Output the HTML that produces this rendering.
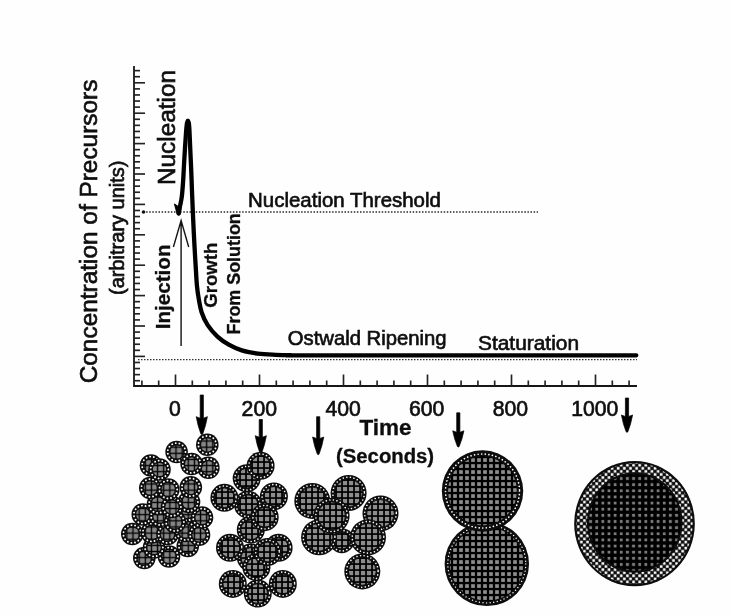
<!DOCTYPE html>
<html><head><meta charset="utf-8">
<style>
html,body{margin:0;padding:0;background:#fefefe;}
body{width:733px;height:616px;overflow:hidden;font-family:"Liberation Sans",sans-serif;}
svg{display:block;font-family:"Liberation Sans",sans-serif;}
</style></head><body>
<svg width="733" height="616" viewBox="0 0 733 616">
<defs>
<pattern id="gridS" width="6.14" height="6.14" patternUnits="userSpaceOnUse" x="1" y="2">
<rect width="6.14" height="6.14" fill="#868686"/>
<path d="M0 3.07H6.14M3.07 0V6.14" stroke="#000" stroke-width="1.35"/>
</pattern>
<pattern id="gridM" width="6" height="6" patternUnits="userSpaceOnUse">
<rect width="6" height="6" fill="#000"/>
<rect x="0.9" y="0.95" width="4.25" height="4.25" fill="#8c8c8c"/>
</pattern>
<pattern id="gridL" width="6.14" height="6.14" patternUnits="userSpaceOnUse" x="4.19" y="2.65">
<rect width="6.14" height="6.14" fill="#000"/>
<rect x="1.67" y="1.67" width="2.8" height="2.8" fill="#7c7c7c"/>
</pattern>
<pattern id="check" width="6.14" height="6.14" patternUnits="userSpaceOnUse" x="5.72" y="3.2">
<rect width="6.14" height="6.14" fill="#0c0c0c"/>
<rect x="0.25" y="0.25" width="2.6" height="2.6" fill="#fff"/>
<rect x="3.32" y="3.32" width="2.6" height="2.6" fill="#fff"/>
</pattern>
<pattern id="gridB" width="6" height="6" patternUnits="userSpaceOnUse" x="2" y="1">
<rect width="6" height="6" fill="#000"/>
<rect x="1.15" y="1.2" width="3.7" height="3.7" fill="#8d8d8d"/>
</pattern>
</defs>
<filter id="soft" x="0" y="0" width="733" height="616" filterUnits="userSpaceOnUse"><feGaussianBlur stdDeviation="0.45"/></filter>
<rect width="733" height="616" fill="#fefefe"/>
<g filter="url(#soft)">

<g stroke="#161616" stroke-width="1.8" fill="none">
<path d="M134.0 66V386.0H637"/>
</g>
<g stroke="#222" stroke-width="1.65">
<path d="M134.0 70.64h6"/>
<path d="M134.0 76.72h6"/>
<path d="M134.0 82.80h11"/>
<path d="M134.0 88.88h6"/>
<path d="M134.0 94.96h6"/>
<path d="M134.0 101.04h6"/>
<path d="M134.0 107.12h6"/>
<path d="M134.0 113.20h11"/>
<path d="M134.0 119.28h6"/>
<path d="M134.0 125.36h6"/>
<path d="M134.0 131.44h6"/>
<path d="M134.0 137.52h6"/>
<path d="M134.0 143.60h11"/>
<path d="M134.0 149.68h6"/>
<path d="M134.0 155.76h6"/>
<path d="M134.0 161.84h6"/>
<path d="M134.0 167.92h6"/>
<path d="M134.0 174.00h11"/>
<path d="M134.0 180.08h6"/>
<path d="M134.0 186.16h6"/>
<path d="M134.0 192.24h6"/>
<path d="M134.0 198.32h6"/>
<path d="M134.0 204.40h11"/>
<path d="M134.0 210.48h6"/>
<path d="M134.0 216.56h6"/>
<path d="M134.0 222.64h6"/>
<path d="M134.0 228.72h6"/>
<path d="M134.0 234.80h11"/>
<path d="M134.0 240.88h6"/>
<path d="M134.0 246.96h6"/>
<path d="M134.0 253.04h6"/>
<path d="M134.0 259.12h6"/>
<path d="M134.0 265.20h11"/>
<path d="M134.0 271.28h6"/>
<path d="M134.0 277.36h6"/>
<path d="M134.0 283.44h6"/>
<path d="M134.0 289.52h6"/>
<path d="M134.0 295.60h11"/>
<path d="M134.0 301.68h6"/>
<path d="M134.0 307.76h6"/>
<path d="M134.0 313.84h6"/>
<path d="M134.0 319.92h6"/>
<path d="M134.0 326.00h11"/>
<path d="M134.0 332.08h6"/>
<path d="M134.0 338.16h6"/>
<path d="M134.0 344.24h6"/>
<path d="M134.0 350.32h6"/>
<path d="M134.0 356.40h11"/>
<path d="M134.0 362.48h6"/>
<path d="M134.0 368.56h6"/>
<path d="M134.0 374.64h6"/>
<path d="M134.0 380.72h6"/>
<path d="M141.90 386.0v-5.5"/>
<path d="M158.70 386.0v-5.5"/>
<path d="M175.50 386.0v-11.5"/>
<path d="M192.30 386.0v-5.5"/>
<path d="M209.10 386.0v-5.5"/>
<path d="M225.90 386.0v-5.5"/>
<path d="M242.70 386.0v-5.5"/>
<path d="M259.50 386.0v-11.5"/>
<path d="M276.30 386.0v-5.5"/>
<path d="M293.10 386.0v-5.5"/>
<path d="M309.90 386.0v-5.5"/>
<path d="M326.70 386.0v-5.5"/>
<path d="M343.50 386.0v-11.5"/>
<path d="M360.30 386.0v-5.5"/>
<path d="M377.10 386.0v-5.5"/>
<path d="M393.90 386.0v-5.5"/>
<path d="M410.70 386.0v-5.5"/>
<path d="M427.50 386.0v-11.5"/>
<path d="M444.30 386.0v-5.5"/>
<path d="M461.10 386.0v-5.5"/>
<path d="M477.90 386.0v-5.5"/>
<path d="M494.70 386.0v-5.5"/>
<path d="M511.50 386.0v-11.5"/>
<path d="M528.30 386.0v-5.5"/>
<path d="M545.10 386.0v-5.5"/>
<path d="M561.90 386.0v-5.5"/>
<path d="M578.70 386.0v-5.5"/>
<path d="M595.50 386.0v-11.5"/>
<path d="M612.30 386.0v-5.5"/>
<path d="M629.10 386.0v-5.5"/>
</g>
<path d="M143 212H538" stroke="#2a2a2a" stroke-width="1.7" stroke-dasharray="1.5 1.6"/>
<circle cx="143.5" cy="212" r="1.8" fill="#111"/>
<path d="M138 359.6H637" stroke="#333" stroke-width="1.3" stroke-dasharray="1.5 1.5"/>
<path d="M178.70 213.50 C178.85 212.58 179.27 209.75 179.60 208.00 C179.93 206.25 180.37 204.67 180.70 203.00 C181.03 201.33 181.35 199.67 181.60 198.00 C181.85 196.33 181.93 196.00 182.20 193.00 C182.47 190.00 182.88 185.00 183.20 180.00 C183.52 175.00 183.80 168.33 184.10 163.00 C184.40 157.67 184.72 152.50 185.00 148.00 C185.28 143.50 185.57 139.33 185.80 136.00 C186.03 132.67 186.20 130.17 186.40 128.00 C186.60 125.83 186.75 124.17 187.00 123.00 C187.25 121.83 187.75 121.33 187.90 121.00" fill="none" stroke="#050505" stroke-width="4.3" stroke-linecap="round"/>
<path d="M187.90 121.00 C188.05 121.33 188.57 121.83 188.80 123.00 C189.03 124.17 189.15 125.83 189.30 128.00 C189.45 130.17 189.53 132.33 189.70 136.00 C189.87 139.67 190.10 145.50 190.30 150.00 C190.50 154.50 190.68 158.00 190.90 163.00 C191.12 168.00 191.40 174.83 191.60 180.00 C191.80 185.17 191.83 187.33 192.10 194.00 C192.37 200.67 192.82 211.62 193.20 220.00 C193.58 228.38 193.95 235.97 194.40 244.30 C194.85 252.63 195.47 263.02 195.90 270.00 C196.33 276.98 196.52 281.33 197.00 286.20 C197.48 291.07 198.03 294.87 198.80 299.20 C199.57 303.53 200.12 307.87 201.60 312.20 C203.08 316.53 205.05 321.13 207.70 325.20 C210.35 329.27 213.98 333.35 217.50 336.60 C221.02 339.85 224.75 342.40 228.80 344.70 C232.85 347.00 236.93 348.92 241.80 350.40 C246.67 351.88 252.32 352.87 258.00 353.60 C263.68 354.33 270.57 354.53 275.90 354.80 C281.23 355.07 282.65 355.12 290.00 355.20 C297.35 355.28 262.28 355.28 320.00 355.30 C377.72 355.32 583.58 355.30 636.30 355.30" fill="none" stroke="#050505" stroke-width="4.3" stroke-linecap="round"/>
<path d="M174.6 204.2 L177.2 213.8 Q178.6 216 180.2 213.8 L181.5 203 L178.4 207 Z" fill="#050505" stroke="#050505" stroke-width="1.2" stroke-linejoin="round"/>
<path d="M181.1 346V221 M173.4 247L181.1 220.5L188.7 247" fill="none" stroke="#151515" stroke-width="1.4"/>
<text x="96.7" y="383.3" font-size="24.4" font-weight="normal" text-anchor="start" fill="#0c0c0c" stroke="#0c0c0c" stroke-width="0.65" transform="rotate(-90 96.7 383.3)">Concentration of Precursors</text>
<text x="124.2" y="295" font-size="20.0" font-weight="normal" text-anchor="start" fill="#0c0c0c" stroke="#0c0c0c" stroke-width="0.65" transform="rotate(-90 124.2 295)">(arbitrary units)</text>
<text x="175" y="185.1" font-size="24.4" font-weight="normal" text-anchor="start" fill="#0c0c0c" stroke="#0c0c0c" stroke-width="0.65" transform="rotate(-90 175 185.1)">Nucleation</text>
<text x="169.6" y="329.2" font-size="20.6" font-weight="bold" text-anchor="start" fill="#0c0c0c" stroke="#0c0c0c" stroke-width="0.3" transform="rotate(-90 169.6 329.2)">Injection</text>
<text x="216.8" y="307.8" font-size="18.6" font-weight="bold" text-anchor="start" fill="#0c0c0c" stroke="#0c0c0c" stroke-width="0.3" transform="rotate(-90 216.8 307.8)">Growth</text>
<text x="240" y="334.5" font-size="17.9" font-weight="bold" text-anchor="start" fill="#0c0c0c" stroke="#0c0c0c" stroke-width="0.3" transform="rotate(-90 240 334.5)">From Solution</text>
<text x="248.1" y="207" font-size="20.45" font-weight="normal" text-anchor="start" fill="#0c0c0c" stroke="#0c0c0c" stroke-width="0.65">Nucleation Threshold</text>
<text x="287.8" y="345" font-size="20.25" font-weight="normal" text-anchor="start" fill="#0c0c0c" stroke="#0c0c0c" stroke-width="0.65">Ostwald Ripening</text>
<text x="478" y="349.5" font-size="20.9" font-weight="normal" text-anchor="start" fill="#0c0c0c" stroke="#0c0c0c" stroke-width="0.65">Staturation</text>
<text x="175" y="415.8" font-size="21.2" font-weight="normal" text-anchor="middle" fill="#0c0c0c" stroke="#0c0c0c" stroke-width="0.65">0</text>
<text x="259.3" y="415.8" font-size="21.2" font-weight="normal" text-anchor="middle" fill="#0c0c0c" stroke="#0c0c0c" stroke-width="0.65">200</text>
<text x="343.2" y="415.8" font-size="21.2" font-weight="normal" text-anchor="middle" fill="#0c0c0c" stroke="#0c0c0c" stroke-width="0.65">400</text>
<text x="426.7" y="415.8" font-size="21.2" font-weight="normal" text-anchor="middle" fill="#0c0c0c" stroke="#0c0c0c" stroke-width="0.65">600</text>
<text x="510.4" y="415.8" font-size="21.2" font-weight="normal" text-anchor="middle" fill="#0c0c0c" stroke="#0c0c0c" stroke-width="0.65">800</text>
<text x="594.7" y="415.8" font-size="21.2" font-weight="normal" text-anchor="middle" fill="#0c0c0c" stroke="#0c0c0c" stroke-width="0.65">1000</text>
<text x="385.5" y="435" font-size="22.5" font-weight="bold" text-anchor="middle" fill="#0c0c0c" stroke="#0c0c0c" stroke-width="0.3">Time</text>
<text x="385.1" y="463" font-size="20.3" font-weight="bold" text-anchor="middle" fill="#0c0c0c" stroke="#0c0c0c" stroke-width="0.3">(Seconds)</text>
<path d="M200.20000000000002 395H203.4V418.2L207.4 416.7Q205.83 425.75 202.70000000000002 434.0Q201.8 435.2 200.9 434.0Q197.77 425.75 196.20000000000002 416.7L200.20000000000002 418.2Z" fill="#060606" stroke="#060606" stroke-width="0.7" stroke-linejoin="round"/>
<path d="M259.2 419.5H262.40000000000003V437.2L266.40000000000003 435.7Q264.83 444.75 261.7 453.0Q260.8 454.2 259.90000000000003 453.0Q256.77 444.75 255.20000000000002 435.7L259.2 437.2Z" fill="#060606" stroke="#060606" stroke-width="0.7" stroke-linejoin="round"/>
<path d="M316.59999999999997 416.7H319.8V438.5L323.8 437Q322.23 445.95 319.09999999999997 454.09999999999997Q318.2 455.29999999999995 317.3 454.09999999999997Q314.17 445.95 312.59999999999997 437L316.59999999999997 438.5Z" fill="#060606" stroke="#060606" stroke-width="0.7" stroke-linejoin="round"/>
<path d="M456.7 412.8H459.90000000000003V432.3L463.90000000000003 430.8Q462.33 439.00 459.2 446.4Q458.3 447.59999999999997 457.40000000000003 446.4Q454.27 439.00 452.7 430.8L456.7 432.3Z" fill="#060606" stroke="#060606" stroke-width="0.7" stroke-linejoin="round"/>
<path d="M625.4 398H628.6V416.5L632.6 415Q631.03 423.75 627.9 431.7Q627 432.9 626.1 431.7Q622.97 423.75 621.4 415L625.4 416.5Z" fill="#060606" stroke="#060606" stroke-width="0.7" stroke-linejoin="round"/>
<circle cx="144.3" cy="558" r="11.3" fill="#0e0e0e"/>
<circle cx="144.3" cy="558" r="8.9" fill="none" stroke="#fff" stroke-width="1.9" stroke-linecap="round" stroke-dasharray="0.01 3.7"/>
<circle cx="144.3" cy="558" r="6.6000000000000005" fill="url(#gridS)"/>
<circle cx="169" cy="556.5" r="11.3" fill="#0e0e0e"/>
<circle cx="169" cy="556.5" r="8.9" fill="none" stroke="#fff" stroke-width="1.9" stroke-linecap="round" stroke-dasharray="0.01 3.7"/>
<circle cx="169" cy="556.5" r="6.6000000000000005" fill="url(#gridS)"/>
<circle cx="154" cy="547.5" r="11.3" fill="#0e0e0e"/>
<circle cx="154" cy="547.5" r="8.9" fill="none" stroke="#fff" stroke-width="1.9" stroke-linecap="round" stroke-dasharray="0.01 3.7"/>
<circle cx="154" cy="547.5" r="6.6000000000000005" fill="url(#gridS)"/>
<circle cx="187.8" cy="546" r="11.3" fill="#0e0e0e"/>
<circle cx="187.8" cy="546" r="8.9" fill="none" stroke="#fff" stroke-width="1.9" stroke-linecap="round" stroke-dasharray="0.01 3.7"/>
<circle cx="187.8" cy="546" r="6.6000000000000005" fill="url(#gridS)"/>
<circle cx="132.3" cy="534" r="11.3" fill="#0e0e0e"/>
<circle cx="132.3" cy="534" r="8.9" fill="none" stroke="#fff" stroke-width="1.9" stroke-linecap="round" stroke-dasharray="0.01 3.7"/>
<circle cx="132.3" cy="534" r="6.6000000000000005" fill="url(#gridS)"/>
<circle cx="151.8" cy="532.5" r="11.3" fill="#0e0e0e"/>
<circle cx="151.8" cy="532.5" r="8.9" fill="none" stroke="#fff" stroke-width="1.9" stroke-linecap="round" stroke-dasharray="0.01 3.7"/>
<circle cx="151.8" cy="532.5" r="6.6000000000000005" fill="url(#gridS)"/>
<circle cx="167.5" cy="534" r="11.3" fill="#0e0e0e"/>
<circle cx="167.5" cy="534" r="8.9" fill="none" stroke="#fff" stroke-width="1.9" stroke-linecap="round" stroke-dasharray="0.01 3.7"/>
<circle cx="167.5" cy="534" r="6.6000000000000005" fill="url(#gridS)"/>
<circle cx="185.6" cy="531" r="11.3" fill="#0e0e0e"/>
<circle cx="185.6" cy="531" r="8.9" fill="none" stroke="#fff" stroke-width="1.9" stroke-linecap="round" stroke-dasharray="0.01 3.7"/>
<circle cx="185.6" cy="531" r="6.6000000000000005" fill="url(#gridS)"/>
<circle cx="199" cy="534.8" r="11.3" fill="#0e0e0e"/>
<circle cx="199" cy="534.8" r="8.9" fill="none" stroke="#fff" stroke-width="1.9" stroke-linecap="round" stroke-dasharray="0.01 3.7"/>
<circle cx="199" cy="534.8" r="6.6000000000000005" fill="url(#gridS)"/>
<circle cx="142.8" cy="514.5" r="11.3" fill="#0e0e0e"/>
<circle cx="142.8" cy="514.5" r="8.9" fill="none" stroke="#fff" stroke-width="1.9" stroke-linecap="round" stroke-dasharray="0.01 3.7"/>
<circle cx="142.8" cy="514.5" r="6.6000000000000005" fill="url(#gridS)"/>
<circle cx="160" cy="516" r="11.3" fill="#0e0e0e"/>
<circle cx="160" cy="516" r="8.9" fill="none" stroke="#fff" stroke-width="1.9" stroke-linecap="round" stroke-dasharray="0.01 3.7"/>
<circle cx="160" cy="516" r="6.6000000000000005" fill="url(#gridS)"/>
<circle cx="187" cy="511.5" r="11.3" fill="#0e0e0e"/>
<circle cx="187" cy="511.5" r="8.9" fill="none" stroke="#fff" stroke-width="1.9" stroke-linecap="round" stroke-dasharray="0.01 3.7"/>
<circle cx="187" cy="511.5" r="6.6000000000000005" fill="url(#gridS)"/>
<circle cx="202" cy="517.5" r="11.3" fill="#0e0e0e"/>
<circle cx="202" cy="517.5" r="8.9" fill="none" stroke="#fff" stroke-width="1.9" stroke-linecap="round" stroke-dasharray="0.01 3.7"/>
<circle cx="202" cy="517.5" r="6.6000000000000005" fill="url(#gridS)"/>
<circle cx="158" cy="504" r="11.3" fill="#0e0e0e"/>
<circle cx="158" cy="504" r="8.9" fill="none" stroke="#fff" stroke-width="1.9" stroke-linecap="round" stroke-dasharray="0.01 3.7"/>
<circle cx="158" cy="504" r="6.6000000000000005" fill="url(#gridS)"/>
<circle cx="189" cy="502" r="11.3" fill="#0e0e0e"/>
<circle cx="189" cy="502" r="8.9" fill="none" stroke="#fff" stroke-width="1.9" stroke-linecap="round" stroke-dasharray="0.01 3.7"/>
<circle cx="189" cy="502" r="6.6000000000000005" fill="url(#gridS)"/>
<circle cx="175" cy="522" r="11.3" fill="#0e0e0e"/>
<circle cx="175" cy="522" r="8.9" fill="none" stroke="#fff" stroke-width="1.9" stroke-linecap="round" stroke-dasharray="0.01 3.7"/>
<circle cx="175" cy="522" r="6.6000000000000005" fill="url(#gridS)"/>
<circle cx="172" cy="507" r="11.3" fill="#0e0e0e"/>
<circle cx="172" cy="507" r="8.9" fill="none" stroke="#fff" stroke-width="1.9" stroke-linecap="round" stroke-dasharray="0.01 3.7"/>
<circle cx="172" cy="507" r="6.6000000000000005" fill="url(#gridS)"/>
<circle cx="150.3" cy="488" r="11.3" fill="#0e0e0e"/>
<circle cx="150.3" cy="488" r="8.9" fill="none" stroke="#fff" stroke-width="1.9" stroke-linecap="round" stroke-dasharray="0.01 3.7"/>
<circle cx="150.3" cy="488" r="6.6000000000000005" fill="url(#gridS)"/>
<circle cx="168.3" cy="489.5" r="11.3" fill="#0e0e0e"/>
<circle cx="168.3" cy="489.5" r="8.9" fill="none" stroke="#fff" stroke-width="1.9" stroke-linecap="round" stroke-dasharray="0.01 3.7"/>
<circle cx="168.3" cy="489.5" r="6.6000000000000005" fill="url(#gridS)"/>
<circle cx="190.8" cy="487.3" r="11.3" fill="#0e0e0e"/>
<circle cx="190.8" cy="487.3" r="8.9" fill="none" stroke="#fff" stroke-width="1.9" stroke-linecap="round" stroke-dasharray="0.01 3.7"/>
<circle cx="190.8" cy="487.3" r="6.6000000000000005" fill="url(#gridS)"/>
<circle cx="151" cy="465.5" r="11.3" fill="#0e0e0e"/>
<circle cx="151" cy="465.5" r="8.9" fill="none" stroke="#fff" stroke-width="1.9" stroke-linecap="round" stroke-dasharray="0.01 3.7"/>
<circle cx="151" cy="465.5" r="6.6000000000000005" fill="url(#gridS)"/>
<circle cx="159.5" cy="469.5" r="11.3" fill="#0e0e0e"/>
<circle cx="159.5" cy="469.5" r="8.9" fill="none" stroke="#fff" stroke-width="1.9" stroke-linecap="round" stroke-dasharray="0.01 3.7"/>
<circle cx="159.5" cy="469.5" r="6.6000000000000005" fill="url(#gridS)"/>
<circle cx="176.6" cy="452" r="11.3" fill="#0e0e0e"/>
<circle cx="176.6" cy="452" r="8.9" fill="none" stroke="#fff" stroke-width="1.9" stroke-linecap="round" stroke-dasharray="0.01 3.7"/>
<circle cx="176.6" cy="452" r="6.6000000000000005" fill="url(#gridS)"/>
<circle cx="208.4" cy="467.8" r="11.3" fill="#0e0e0e"/>
<circle cx="208.4" cy="467.8" r="8.9" fill="none" stroke="#fff" stroke-width="1.9" stroke-linecap="round" stroke-dasharray="0.01 3.7"/>
<circle cx="208.4" cy="467.8" r="6.6000000000000005" fill="url(#gridS)"/>
<circle cx="191.6" cy="464" r="11.3" fill="#0e0e0e"/>
<circle cx="191.6" cy="464" r="8.9" fill="none" stroke="#fff" stroke-width="1.9" stroke-linecap="round" stroke-dasharray="0.01 3.7"/>
<circle cx="191.6" cy="464" r="6.6000000000000005" fill="url(#gridS)"/>
<circle cx="207.3" cy="444.8" r="11.3" fill="#0e0e0e"/>
<circle cx="207.3" cy="444.8" r="8.9" fill="none" stroke="#fff" stroke-width="1.9" stroke-linecap="round" stroke-dasharray="0.01 3.7"/>
<circle cx="207.3" cy="444.8" r="6.6000000000000005" fill="url(#gridS)"/>
<circle cx="232.8" cy="583.9" r="14" fill="#0e0e0e"/>
<circle cx="232.8" cy="583.9" r="11.8" fill="none" stroke="#fff" stroke-width="1.6" stroke-linecap="round" stroke-dasharray="0.01 3.6"/>
<circle cx="232.8" cy="583.9" r="9.8" fill="url(#gridM)" stroke="#050505" stroke-width="0.8"/>
<circle cx="282.8" cy="583.9" r="14" fill="#0e0e0e"/>
<circle cx="282.8" cy="583.9" r="11.8" fill="none" stroke="#fff" stroke-width="1.6" stroke-linecap="round" stroke-dasharray="0.01 3.6"/>
<circle cx="282.8" cy="583.9" r="9.8" fill="url(#gridM)" stroke="#050505" stroke-width="0.8"/>
<circle cx="257.8" cy="593.6" r="14" fill="#0e0e0e"/>
<circle cx="257.8" cy="593.6" r="11.8" fill="none" stroke="#fff" stroke-width="1.6" stroke-linecap="round" stroke-dasharray="0.01 3.6"/>
<circle cx="257.8" cy="593.6" r="9.8" fill="url(#gridM)" stroke="#050505" stroke-width="0.8"/>
<circle cx="250.8" cy="557.5" r="14" fill="#0e0e0e"/>
<circle cx="250.8" cy="557.5" r="11.8" fill="none" stroke="#fff" stroke-width="1.6" stroke-linecap="round" stroke-dasharray="0.01 3.6"/>
<circle cx="250.8" cy="557.5" r="9.8" fill="url(#gridM)" stroke="#050505" stroke-width="0.8"/>
<circle cx="256.4" cy="567.2" r="14" fill="#0e0e0e"/>
<circle cx="256.4" cy="567.2" r="11.8" fill="none" stroke="#fff" stroke-width="1.6" stroke-linecap="round" stroke-dasharray="0.01 3.6"/>
<circle cx="256.4" cy="567.2" r="9.8" fill="url(#gridM)" stroke="#050505" stroke-width="0.8"/>
<circle cx="230" cy="547.8" r="14" fill="#0e0e0e"/>
<circle cx="230" cy="547.8" r="11.8" fill="none" stroke="#fff" stroke-width="1.6" stroke-linecap="round" stroke-dasharray="0.01 3.6"/>
<circle cx="230" cy="547.8" r="9.8" fill="url(#gridM)" stroke="#050505" stroke-width="0.8"/>
<circle cx="278.6" cy="547.8" r="14" fill="#0e0e0e"/>
<circle cx="278.6" cy="547.8" r="11.8" fill="none" stroke="#fff" stroke-width="1.6" stroke-linecap="round" stroke-dasharray="0.01 3.6"/>
<circle cx="278.6" cy="547.8" r="9.8" fill="url(#gridM)" stroke="#050505" stroke-width="0.8"/>
<circle cx="267.5" cy="552" r="14" fill="#0e0e0e"/>
<circle cx="267.5" cy="552" r="11.8" fill="none" stroke="#fff" stroke-width="1.6" stroke-linecap="round" stroke-dasharray="0.01 3.6"/>
<circle cx="267.5" cy="552" r="9.8" fill="url(#gridM)" stroke="#050505" stroke-width="0.8"/>
<circle cx="250.8" cy="529.7" r="14" fill="#0e0e0e"/>
<circle cx="250.8" cy="529.7" r="11.8" fill="none" stroke="#fff" stroke-width="1.6" stroke-linecap="round" stroke-dasharray="0.01 3.6"/>
<circle cx="250.8" cy="529.7" r="9.8" fill="url(#gridM)" stroke="#050505" stroke-width="0.8"/>
<circle cx="248" cy="504.7" r="14" fill="#0e0e0e"/>
<circle cx="248" cy="504.7" r="11.8" fill="none" stroke="#fff" stroke-width="1.6" stroke-linecap="round" stroke-dasharray="0.01 3.6"/>
<circle cx="248" cy="504.7" r="9.8" fill="url(#gridM)" stroke="#050505" stroke-width="0.8"/>
<circle cx="224.4" cy="497.8" r="14" fill="#0e0e0e"/>
<circle cx="224.4" cy="497.8" r="11.8" fill="none" stroke="#fff" stroke-width="1.6" stroke-linecap="round" stroke-dasharray="0.01 3.6"/>
<circle cx="224.4" cy="497.8" r="9.8" fill="url(#gridM)" stroke="#050505" stroke-width="0.8"/>
<circle cx="273.9" cy="496.4" r="14" fill="#0e0e0e"/>
<circle cx="273.9" cy="496.4" r="11.8" fill="none" stroke="#fff" stroke-width="1.6" stroke-linecap="round" stroke-dasharray="0.01 3.6"/>
<circle cx="273.9" cy="496.4" r="9.8" fill="url(#gridM)" stroke="#050505" stroke-width="0.8"/>
<circle cx="264.7" cy="517.2" r="14" fill="#0e0e0e"/>
<circle cx="264.7" cy="517.2" r="11.8" fill="none" stroke="#fff" stroke-width="1.6" stroke-linecap="round" stroke-dasharray="0.01 3.6"/>
<circle cx="264.7" cy="517.2" r="9.8" fill="url(#gridM)" stroke="#050505" stroke-width="0.8"/>
<circle cx="246.7" cy="478.3" r="14" fill="#0e0e0e"/>
<circle cx="246.7" cy="478.3" r="11.8" fill="none" stroke="#fff" stroke-width="1.6" stroke-linecap="round" stroke-dasharray="0.01 3.6"/>
<circle cx="246.7" cy="478.3" r="9.8" fill="url(#gridM)" stroke="#050505" stroke-width="0.8"/>
<circle cx="260.6" cy="465.8" r="14" fill="#0e0e0e"/>
<circle cx="260.6" cy="465.8" r="11.8" fill="none" stroke="#fff" stroke-width="1.6" stroke-linecap="round" stroke-dasharray="0.01 3.6"/>
<circle cx="260.6" cy="465.8" r="9.8" fill="url(#gridM)" stroke="#050505" stroke-width="0.8"/>
<circle cx="341.8" cy="540.7" r="12.5" fill="#0e0e0e"/>
<circle cx="341.8" cy="540.7" r="10.3" fill="none" stroke="#fff" stroke-width="1.6" stroke-linecap="round" stroke-dasharray="0.01 3.6"/>
<circle cx="341.8" cy="540.7" r="8.3" fill="url(#gridM)" stroke="#050505" stroke-width="0.8"/>
<circle cx="312.3" cy="500.9" r="18" fill="#0e0e0e"/>
<circle cx="312.3" cy="500.9" r="15.8" fill="none" stroke="#fff" stroke-width="1.6" stroke-linecap="round" stroke-dasharray="0.01 3.6"/>
<circle cx="312.3" cy="500.9" r="13.8" fill="url(#gridM)" stroke="#050505" stroke-width="0.8"/>
<circle cx="348.6" cy="493" r="18" fill="#0e0e0e"/>
<circle cx="348.6" cy="493" r="15.8" fill="none" stroke="#fff" stroke-width="1.6" stroke-linecap="round" stroke-dasharray="0.01 3.6"/>
<circle cx="348.6" cy="493" r="13.8" fill="url(#gridM)" stroke="#050505" stroke-width="0.8"/>
<circle cx="380.5" cy="513.4" r="18" fill="#0e0e0e"/>
<circle cx="380.5" cy="513.4" r="15.8" fill="none" stroke="#fff" stroke-width="1.6" stroke-linecap="round" stroke-dasharray="0.01 3.6"/>
<circle cx="380.5" cy="513.4" r="13.8" fill="url(#gridM)" stroke="#050505" stroke-width="0.8"/>
<circle cx="319.1" cy="537.3" r="18" fill="#0e0e0e"/>
<circle cx="319.1" cy="537.3" r="15.8" fill="none" stroke="#fff" stroke-width="1.6" stroke-linecap="round" stroke-dasharray="0.01 3.6"/>
<circle cx="319.1" cy="537.3" r="13.8" fill="url(#gridM)" stroke="#050505" stroke-width="0.8"/>
<circle cx="368" cy="537.3" r="18" fill="#0e0e0e"/>
<circle cx="368" cy="537.3" r="15.8" fill="none" stroke="#fff" stroke-width="1.6" stroke-linecap="round" stroke-dasharray="0.01 3.6"/>
<circle cx="368" cy="537.3" r="13.8" fill="url(#gridM)" stroke="#050505" stroke-width="0.8"/>
<circle cx="331.6" cy="515.7" r="18" fill="#0e0e0e"/>
<circle cx="331.6" cy="515.7" r="15.8" fill="none" stroke="#fff" stroke-width="1.6" stroke-linecap="round" stroke-dasharray="0.01 3.6"/>
<circle cx="331.6" cy="515.7" r="13.8" fill="url(#gridM)" stroke="#050505" stroke-width="0.8"/>
<circle cx="362.3" cy="571.4" r="18" fill="#0e0e0e"/>
<circle cx="362.3" cy="571.4" r="15.8" fill="none" stroke="#fff" stroke-width="1.6" stroke-linecap="round" stroke-dasharray="0.01 3.6"/>
<circle cx="362.3" cy="571.4" r="13.8" fill="url(#gridM)" stroke="#050505" stroke-width="0.8"/>
<circle cx="486.8" cy="563.9" r="42.2" fill="#080808"/>
<circle cx="486.8" cy="563.9" r="39.0" fill="none" stroke="#fff" stroke-width="1.4" stroke-linecap="round" stroke-dasharray="0.01 3.6"/>
<circle cx="486.8" cy="563.9" r="37.0" fill="url(#gridB)"/>
<circle cx="482.5" cy="491" r="40.7" fill="#080808"/>
<circle cx="482.5" cy="491" r="37.0" fill="none" stroke="#fff" stroke-width="1.7" stroke-linecap="round" stroke-dasharray="0.01 3.6"/>
<circle cx="482.5" cy="491" r="34.400000000000006" fill="url(#gridB)"/>
<ellipse cx="634.5" cy="523.6" rx="60.3" ry="62.6" fill="#080808"/>
<ellipse cx="634.5" cy="523.6" rx="58.2" ry="60.5" fill="url(#check)"/>
<ellipse cx="634.7" cy="522.5" rx="47.8" ry="50.2" fill="#080808"/>
<ellipse cx="634.7" cy="522.5" rx="45.8" ry="48.2" fill="url(#gridL)"/>
</g></svg></body></html>
